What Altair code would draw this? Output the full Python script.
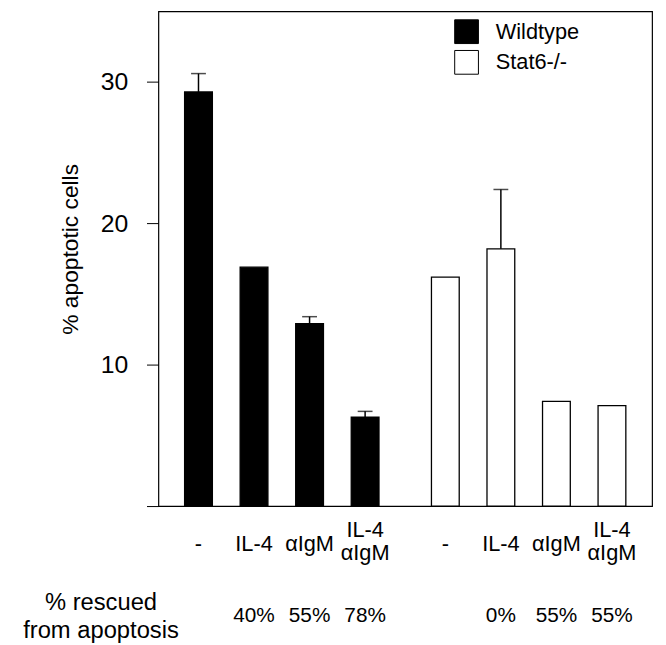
import altair as alt
import pandas as pd

# ---- data ----
groups = ["Wildtype", "Stat6-/-"]
conditions = ["-", "IL-4", "αIgM", "IL-4\nαIgM"]
wt_values = [29.3, 16.9, 12.9, 6.3]
wt_err = [1.3, None, 0.5, 0.4]
stat_values = [16.2, 18.2, 7.4, 7.1]
stat_err = [None, 4.2, None, None]
wt_rescued = ["", "40%", "55%", "78%"]
stat_rescued = ["", "0%", "55%", "55%"]
y_ticks = [0, 10, 20, 30]

rows = []
for g, vals, errs, resc in [(groups[0], wt_values, wt_err, wt_rescued),
                            (groups[1], stat_values, stat_err, stat_rescued)]:
    for i, (c, v, e, r) in enumerate(zip(conditions, vals, errs, resc)):
        rows.append({"group": g, "cond": str(i + 1), "label": c, "value": v,
                     "err": e, "top": (v + e) if e is not None else None,
                     "rescued": r})
df = pd.DataFrame(rows)

FONT = "Liberation Sans"

x_enc = alt.X("group:N", sort=groups, axis=None,
              scale=alt.Scale(paddingInner=0.1, paddingOuter=0.05))
xo_enc = alt.XOffset("cond:N", sort=["1", "2", "3", "4"],
                     scale=alt.Scale(paddingInner=0.5, paddingOuter=0.25))
y_scale = alt.Scale(domain=[0, 35], nice=False, zero=True)

base = alt.Chart(df)

bars = base.mark_bar(stroke="black", strokeWidth=1.3).encode(
    x=x_enc,
    xOffset=xo_enc,
    y=alt.Y("value:Q", scale=y_scale,
            axis=alt.Axis(values=y_ticks, title="% apoptotic cells",
                          labelExpr="datum.value == 0 ? '' : datum.label",
                          grid=False, domain=False, tickSize=12,
                          tickColor="black", tickWidth=1,
                          labelPadding=19, labelFontSize=25, labelFont=FONT,
                          labelColor="black",
                          titleFontSize=23, titleFont=FONT, titleFontWeight="normal",
                          titleColor="black", titleAngle=270,
                          titleX=-89, titleY=240, titleAlign="center",
                          titleBaseline="middle")),
    fill=alt.Fill("group:N", sort=groups,
                  scale=alt.Scale(domain=groups, range=["black", "white"]),
                  legend=alt.Legend(title=None, orient="none", legendX=299,
                                    legendY=8, symbolType="square",
                                    symbolSize=576, symbolStrokeColor="black",
                                    symbolStrokeWidth=1, labelFontSize=22,
                                    labelFont=FONT, labelColor="black",
                                    labelOffset=17, rowPadding=2)),
)

err_df = base.transform_filter("datum.err != null")

err_rules = err_df.mark_rule(color="black", strokeWidth=1.5).encode(
    x=x_enc, xOffset=xo_enc,
    y=alt.Y("value:Q", scale=y_scale), y2="top:Q",
)

err_caps = err_df.mark_tick(color="black", thickness=1.5, size=15,
                            orient="horizontal").encode(
    x=x_enc, xOffset=xo_enc,
    y=alt.Y("top:Q", scale=y_scale),
)

cat_single = base.transform_filter("indexof(datum.label, '\\n') < 0").mark_text(
    font=FONT, fontSize=22, baseline="middle", align="center", color="black",
).encode(x=x_enc, xOffset=xo_enc, y=alt.value(538), text="label:N")

cat_double = base.transform_filter("indexof(datum.label, '\\n') >= 0").mark_text(
    font=FONT, fontSize=22, lineBreak="\n", lineHeight=24, baseline="middle",
    align="center", color="black",
).encode(x=x_enc, xOffset=xo_enc, y=alt.value(524), text="label:N")

pct_labels = base.mark_text(font=FONT, fontSize=21, baseline="middle",
                            align="center", color="black").encode(
    x=x_enc, xOffset=xo_enc, y=alt.value(611), text="rescued:N",
)

side_label = alt.Chart(pd.DataFrame({"t": ["% rescued\nfrom apoptosis"]})).mark_text(
    font=FONT, fontSize=24, lineBreak="\n", lineHeight=28,
    baseline="middle", align="center", color="black",
).encode(x=alt.value(-58), y=alt.value(598), text="t:N")

chart = alt.layer(bars, err_rules, err_caps, cat_single, cat_double, pct_labels,
                  side_label).properties(
    width=499, height=500,
    autosize=alt.AutoSizeParams(type="none"),
    padding={"left": 152, "top": 0, "right": 6, "bottom": 137},
).configure_view(stroke="black", strokeWidth=1.2)

chart.save("out.html", embed_options={"renderer": "svg", "actions": False})
